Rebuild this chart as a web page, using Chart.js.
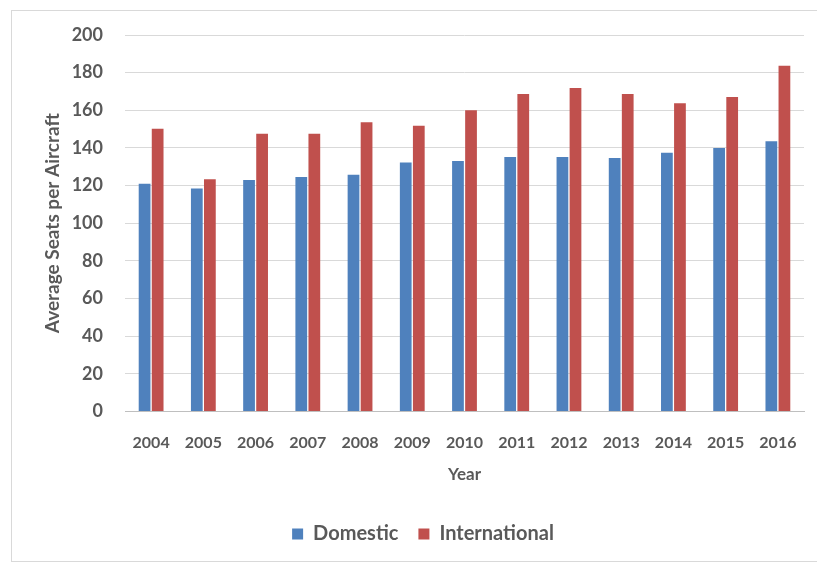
<!DOCTYPE html>
<html>
<head>
<meta charset="utf-8">
<script src="https://cdn.jsdelivr.net/npm/chart.js@4"></script>
<style>
  html, body { margin: 0; padding: 0; background: #fff; overflow: hidden; }
  #frame {
    position: absolute; left: 11px; top: 10px;
    width: 830px; height: 550px;
    border: 1px solid #d9d9d9;
  }
</style>
</head>
<body>
<div id="frame"><canvas id="seatsChart" width="806" height="549"></canvas></div>
<script>
const years = ["2004", "2005", "2006", "2007", "2008", "2009", "2010", "2011", "2012", "2013", "2014", "2015", "2016"];
const domestic = [121, 118.5, 123, 124.5, 125.7, 132.3, 133, 135.2, 135.2, 134.6, 137.4, 140, 143.6];
const international = [150.2, 123.4, 147.5, 147.5, 153.6, 151.8, 160, 168.6, 171.8, 168.6, 163.8, 167, 183.7];
const yTicks = [0, 20, 40, 60, 80, 100, 120, 140, 160, 180, 200];

const textColor = "#595959";
const clear = "rgba(0,0,0,0)";

// nudge the legend to where the original has it
const legendShift = {
  id: "legendShift",
  afterLayout(chart) {
    chart.legend.left += 15;
    chart.legend.right += 15;
  }
};

const ctx = document.getElementById("seatsChart").getContext("2d");

new Chart(ctx, {
  type: "bar",
  data: {
    labels: years,
    datasets: [
      {
        label: "Domestic",
        data: domestic,
        backgroundColor: "#4f81bd", // blue
        categoryPercentage: 0.5,
        barPercentage: 0.9
      },
      {
        label: "International",
        data: international,
        backgroundColor: "#c0504d", // red
        categoryPercentage: 0.5,
        barPercentage: 0.9
      }
    ]
  },
  options: {
    responsive: false,
    animation: false,
    layout: {
      padding: { left: 0, right: 14, top: 24, bottom: 6 }
    },
    plugins: {
      legend: {
        position: "bottom",
        labels: {
          color: textColor,
          boxWidth: 11,
          boxHeight: 11,
          padding: 20,
          font: { family: "Lato", size: 20, weight: "bold" }
        }
      },
      tooltip: { enabled: false }
    },
    scales: {
      x: {
        // invisible tick marks used as spacing under the axis line
        grid: { drawOnChartArea: false, drawTicks: true, tickLength: 22, tickColor: clear },
        border: { color: "#bfbfbf" },
        ticks: {
          color: textColor,
          padding: 0,
          maxRotation: 0,
          font: { family: "Lato", size: 16, weight: "bold" }
        },
        title: {
          display: true,
          text: "Year",
          color: textColor,
          padding: { top: 12, bottom: 19 },
          font: { family: "Lato", size: 17, weight: "bold" }
        }
      },
      y: {
        min: 0,
        max: 200,
        afterBuildTicks(scale) {
          scale.ticks = yTicks.map(v => ({ value: v }));
        },
        afterFit(scale) {
          scale.width = 113;
        },
        grid: { color: "#d9d9d9", drawTicks: true, tickLength: 22, tickColor: clear },
        border: { display: false },
        ticks: {
          color: textColor,
          padding: 0,
          font: { family: "Lato", size: 18, weight: "bold" }
        },
        title: {
          display: true,
          text: "Average Seats per Aircraft",
          color: textColor,
          padding: { top: 29, bottom: 0 },
          font: { family: "Lato", size: 19, weight: "bold" }
        }
      }
    }
  },
  plugins: [legendShift]
});
</script>
</body>
</html>
